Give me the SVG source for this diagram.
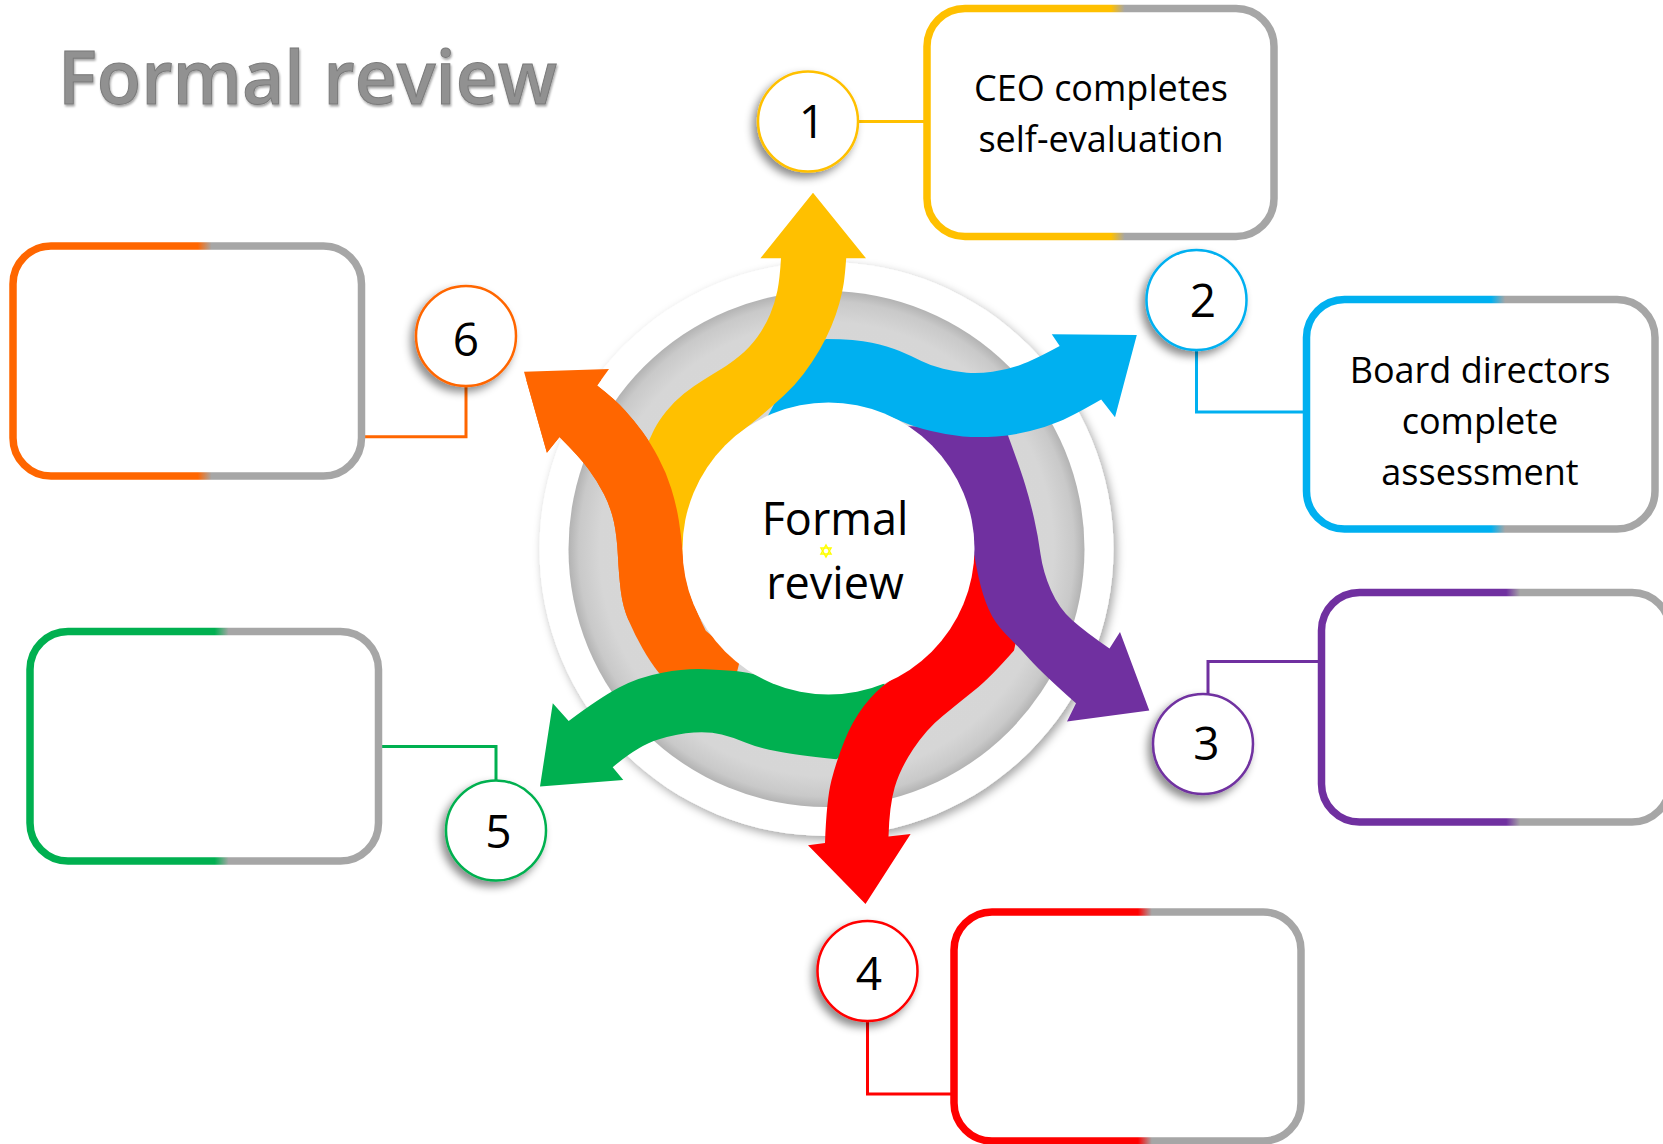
<svg xmlns="http://www.w3.org/2000/svg" width="1663" height="1144" viewBox="0 0 1663 1144">
<defs>
<style>
.box{fill:#fff;stroke-width:7.5}
.num{fill:#fff;stroke-width:2.5}
.conn{fill:none;stroke-width:3}
.t{font-family:"Open Sans","Liberation Sans",sans-serif;fill:#000}
.lbl{font-size:36px;text-anchor:middle}
.dig{font-size:46px;text-anchor:middle}
</style>
<filter id="cs" x="-30%" y="-30%" width="160%" height="160%"><feDropShadow dx="-4" dy="5" stdDeviation="4" flood-color="#000" flood-opacity="0.45"/></filter>
<filter id="hs" x="-10%" y="-10%" width="120%" height="120%"><feDropShadow dx="3" dy="4" stdDeviation="5" flood-color="#000" flood-opacity="0.35"/></filter>
<filter id="ts" x="-5%" y="-20%" width="110%" height="140%"><feDropShadow dx="1" dy="2" stdDeviation="1.2" flood-color="#000" flood-opacity="0.35"/></filter>
<radialGradient id="ring" cx="0.5" cy="0.5" r="0.5">
<stop offset="0" stop-color="#d9d9d9"/><stop offset="0.88" stop-color="#d6d6d6"/><stop offset="0.96" stop-color="#c9c9c9"/><stop offset="1" stop-color="#b3b3b3"/>
</radialGradient>
<linearGradient id="gy" x1="0" x2="1" y1="0" y2="0"><stop offset="0" stop-color="#FFC000"/><stop offset="0.53" stop-color="#FFC000"/><stop offset="0.57" stop-color="#A6A6A6"/><stop offset="1" stop-color="#A6A6A6"/></linearGradient>
<linearGradient id="gb" x1="0" x2="1" y1="0" y2="0"><stop offset="0" stop-color="#00B0F0"/><stop offset="0.53" stop-color="#00B0F0"/><stop offset="0.57" stop-color="#A6A6A6"/><stop offset="1" stop-color="#A6A6A6"/></linearGradient>
<linearGradient id="gp" x1="0" x2="1" y1="0" y2="0"><stop offset="0" stop-color="#7030A0"/><stop offset="0.53" stop-color="#7030A0"/><stop offset="0.57" stop-color="#A6A6A6"/><stop offset="1" stop-color="#A6A6A6"/></linearGradient>
<linearGradient id="gr" x1="0" x2="1" y1="0" y2="0"><stop offset="0" stop-color="#FF0000"/><stop offset="0.53" stop-color="#FF0000"/><stop offset="0.57" stop-color="#A6A6A6"/><stop offset="1" stop-color="#A6A6A6"/></linearGradient>
<linearGradient id="gg" x1="0" x2="1" y1="0" y2="0"><stop offset="0" stop-color="#00B050"/><stop offset="0.53" stop-color="#00B050"/><stop offset="0.57" stop-color="#A6A6A6"/><stop offset="1" stop-color="#A6A6A6"/></linearGradient>
<linearGradient id="go" x1="0" x2="1" y1="0" y2="0"><stop offset="0" stop-color="#FF6600"/><stop offset="0.53" stop-color="#FF6600"/><stop offset="0.57" stop-color="#A6A6A6"/><stop offset="1" stop-color="#A6A6A6"/></linearGradient>
<clipPath id="oclip"><rect x="500" y="380" width="220" height="240"/></clipPath>
<path id="arrowOrange" fill="#FF6600" d="M597.1,385.6 L609,369 L524,371.8 L546.9,452.8 L559.5,437 Q579.3,456.8 588.2,468.65 Q597.1,480.5 604.05,494.35 Q611,508.2 613.95,522.05 Q616.9,535.9 617.9,555.65 Q618.9,575.4 620.85,591.2 Q622.8,607 628.75,620.85 Q634.7,634.7 642.6,648.55 Q650.5,662.4 658.4,672.3 L680,695 L730,700 L740,660 L705.8,630.8 Q690,599.1 687,583.3 Q684,567.5 682.65,551.7 Q681.3,535.9 678.75,520.05 Q676.2,504.2 671.25,488.4 Q666.3,472.6 658.4,457.8 Q650.5,443 642.6,432.1 Q634.7,421.2 624.8,410.3 Q614.9,399.4 597.1,385.6 Z"/>
</defs>
<rect width="1663" height="1144" fill="#fff"/>

<g id="title">
<text class="t" x="58" y="104" font-size="75" font-weight="600" stroke="#7a7a7a" stroke-width="1" textLength="499" lengthAdjust="spacingAndGlyphs" filter="url(#ts)" style="fill:#919191">Formal review</text>
</g>

<g id="hub">
<circle cx="826.5" cy="549" r="287" fill="#fff" filter="url(#hs)"/>
<circle cx="826.5" cy="549" r="258" fill="url(#ring)"/>
<g id="arrows">
<use href="#arrowOrange"/>
<path fill="#00B050" d="M552.8,703.3 L568.7,720.9 Q599.5,697.9 619.05,687.45 Q638.6,677 662.3,672.65 Q686,668.3 705.8,669.3 Q725.6,670.3 737.45,671.3 Q749.3,672.3 775,680 L830,688 L880,680 L900,700 L870,740 L836.3,759.3 Q796.8,755.3 777,751.35 Q757.2,747.4 745.35,742.45 Q733.5,737.5 721.65,734.55 Q709.8,731.6 693.9,732.6 Q678,733.6 658.3,739.5 Q638.6,745.4 612.7,767.2 L623.3,780 L540,786.5 Z"/>
<path fill="#FF0000" d="M960,520 L1000,545 L1025,600 L1014,650.4 Q990,677.8 974.15,690.55 Q958.3,703.3 942.4,716.15 Q926.5,729 913.25,749 Q900,769 894.7,787.25 Q889.4,805.5 888.5,836.5 L910.6,834 L865.5,904 L808,845.3 L825,843 Q826.5,800 831.4,780.6 Q836.3,761.2 844.2,741.45 Q852.1,721.7 864,705.85 Q875.9,690 890.7,680.15 Q905.5,670.3 935,640 L950,600 Z"/>
<path fill="#7030A0" d="M880,425 L1006,430 Q1020.2,468.6 1025.1,484.45 Q1030,500.3 1034,518.1 Q1038,535.9 1040.5,553.95 Q1043,572 1051,590.25 Q1059,608.5 1072.3,620.35 Q1085.6,632.2 1109.5,648.6 L1120,632 L1149.3,710.6 L1067,721.6 L1076,703.3 Q1043,674 1029.85,659.5 Q1016.7,645 1005.6,633.9 Q994.5,622.8 988.55,609 Q982.6,595.2 978.65,577.4 Q974.7,559.6 968,520 L955,480 L930,450 Z"/>
<path fill="#00B0F0" d="M765.1,421.2 L804.7,346 L826.4,339 Q856,339.3 871.85,342.65 Q887.7,346 899.6,351 Q911.5,356 921.35,360.9 Q931.2,365.8 943.1,368.8 Q955,371.8 966.85,372.75 Q978.7,373.7 992.5,371.75 Q1006.3,369.8 1020.15,364.9 Q1034,360 1059.7,346 L1051.8,334.2 L1136.8,335 L1115,417.2 L1101.2,399.4 Q1073.6,415.3 1059.75,421.2 Q1045.9,427.1 1030.1,431.05 Q1014.3,435 996.5,436.4 Q978.7,437.8 962.85,436.4 Q947,435 931.2,431.05 Q915.4,427.1 903.55,422.15 Q891.7,417.2 877.85,412.3 L864,407.4 L832.4,403.4 L796.8,409.3 Z"/>
<path fill="#FFC000" d="M760.4,258.3 L813,192.7 L866,258.3 L846.2,258.3 Q845,274.9 843.65,283.8 Q842.3,292.7 839.3,303.55 Q836.3,314.4 831.35,326.3 Q826.4,338.2 819.5,350.05 Q812.6,361.9 803.7,373.75 Q794.8,385.6 783.9,395.5 Q773,405.4 765.1,412.3 Q757.2,419.2 743.4,430.1 Q729.6,441 717.7,454.8 Q705.8,468.6 697.9,486.4 Q690,504.2 684,555.6 L630.7,555.6 L630.7,528 Q632.7,496.3 635.65,480.5 Q638.6,464.7 644.55,450.85 Q650.5,437 654.45,429.1 Q658.4,421.2 666.3,411.3 Q674.2,401.4 684.1,393.5 Q694,385.6 703.85,379.65 Q713.7,373.7 721.65,368.8 Q729.6,363.9 739.45,355.95 Q749.3,348 757.2,337.15 Q765.1,326.3 770.05,314.45 Q775,302.6 777.4,290.75 Q779.8,278.9 781,258.3 Z"/>
<use href="#arrowOrange" clip-path="url(#oclip)"/>
</g>
<circle cx="828.5" cy="548.5" r="146" fill="#fff"/>
<text class="t" x="835" y="535" font-size="45" text-anchor="middle">Formal</text>
<text class="t" x="835" y="599" font-size="45" text-anchor="middle">review</text>
<polygon points="826,545 831,554 821,554" fill="none" stroke="#FFFF00" stroke-width="1.5"/>
<polygon points="826,557 831,548 821,548" fill="none" stroke="#FFFF00" stroke-width="1.5"/>
</g>

<g id="connectors">
<polyline class="conn" stroke="#FFC000" points="858,121.5 927,121.5"/>
<polyline class="conn" stroke="#00B0F0" points="1196.5,350 1196.5,412 1306.5,412"/>
<polyline class="conn" stroke="#7030A0" points="1208,694 1208,661.5 1321.5,661.5"/>
<polyline class="conn" stroke="#FF0000" points="867.5,1021 867.5,1094 954,1094"/>
<polyline class="conn" stroke="#00B050" points="378.5,746.5 496,746.5 496,780.5"/>
<polyline class="conn" stroke="#FF6600" points="466,385.6 466,436.7 361.5,436.7"/>
</g>

<g id="node1">
<circle class="num" cx="808" cy="121.5" r="50" stroke="#FFC000" filter="url(#cs)"/>
<text class="t dig" x="812" y="138">1</text>
<rect class="box" x="927" y="8.5" width="347" height="228" rx="38" stroke="url(#gy)"/>
<text class="t lbl" x="1101" y="101">CEO completes</text>
<text class="t lbl" x="1101" y="152">self-evaluation</text>
</g>
<g id="node2">
<circle class="num" cx="1196.5" cy="300" r="50" stroke="#00B0F0" filter="url(#cs)"/>
<text class="t dig" x="1203" y="317">2</text>
<rect class="box" x="1306.5" y="299.5" width="348.5" height="229.5" rx="38" stroke="url(#gb)"/>
<text class="t lbl" x="1480" y="383">Board directors</text>
<text class="t lbl" x="1480" y="434">complete</text>
<text class="t lbl" x="1480" y="484.5">assessment</text>
</g>
<g id="node3">
<circle class="num" cx="1203" cy="744" r="50" stroke="#7030A0" filter="url(#cs)"/>
<text class="t dig" x="1206.5" y="760">3</text>
<rect class="box" x="1321.5" y="592.5" width="348.5" height="229.5" rx="38" stroke="url(#gp)"/>
</g>
<g id="node4">
<circle class="num" cx="867.5" cy="971" r="50" stroke="#FF0000" filter="url(#cs)"/>
<text class="t dig" x="869" y="989.5">4</text>
<rect class="box" x="954" y="912" width="347" height="229" rx="38" stroke="url(#gr)"/>
</g>
<g id="node5">
<circle class="num" cx="496" cy="830.5" r="50" stroke="#00B050" filter="url(#cs)"/>
<text class="t dig" x="498.5" y="848">5</text>
<rect class="box" x="30" y="631.5" width="348.5" height="229.5" rx="38" stroke="url(#gg)"/>
</g>
<g id="node6">
<circle class="num" cx="466" cy="336" r="50" stroke="#FF6600" filter="url(#cs)"/>
<text class="t dig" x="466" y="355.5">6</text>
<rect class="box" x="13" y="246" width="348.5" height="230" rx="38" stroke="url(#go)"/>
</g>
</svg>
